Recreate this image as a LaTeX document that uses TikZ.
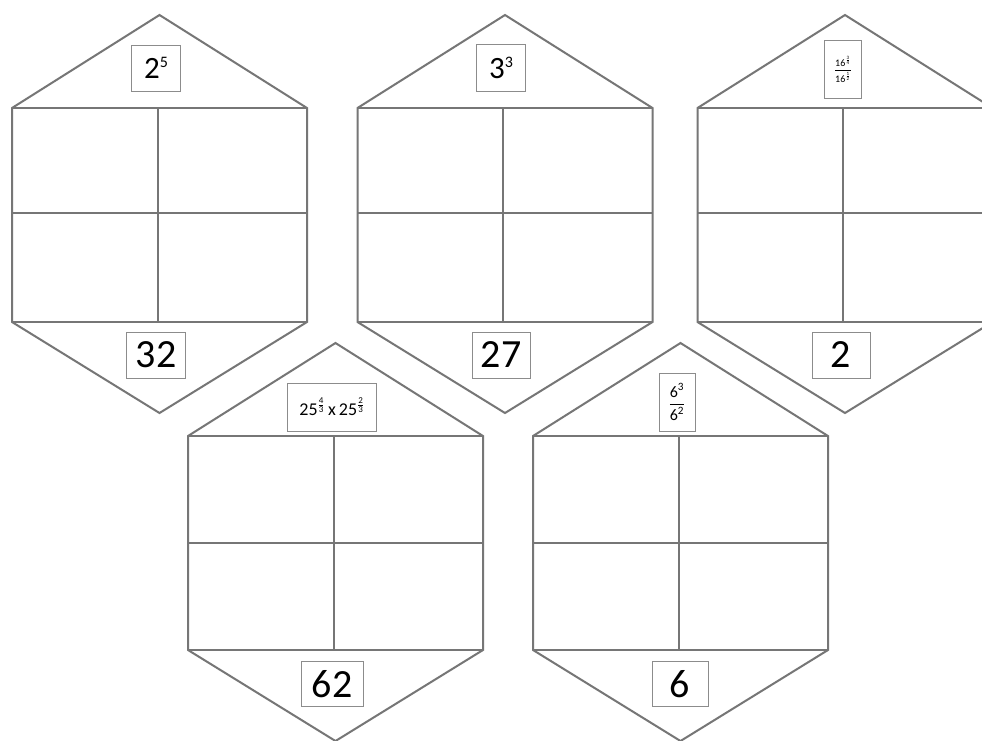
\documentclass[tikz,border=0pt]{standalone}
\usepackage{fontspec}
\setmainfont{Carlito}
\usepackage{amsmath}
\definecolor{linegray}{RGB}{118,118,118}
\definecolor{boxgray}{RGB}{140,140,140}
\newcommand{\hexcard}[4]{%
  % #1 centre x, #2 rectangle top y, #3 rectangle height, #4 middle line offset
  \draw[card] (#1,#2-93) -- (#1+147.5,#2) -- (#1+147.5,#2+#3) -- (#1,#2+#3+91)
     -- (#1-147.5,#2+#3) -- (#1-147.5,#2) -- cycle;
  \draw[card] (#1-147.5,#2) -- (#1+147.5,#2);
  \draw[card] (#1-147.5,#2+#3) -- (#1+147.5,#2+#3);
  \draw[card] (#1-2,#2) -- (#1-2,#2+#3);
  \draw[card] (#1-147.5,#2+#4) -- (#1+147.5,#2+#4);
}
\newcommand{\smallsup}[1]{\raisebox{0.34em}{\fontsize{16}{17}\selectfont #1}}
\begin{document}
\begin{tikzpicture}[x=1pt,y=-1pt,
  card/.style={draw=linegray,line width=2pt,line join=miter},
  lbl/.style={draw=boxgray,line width=0.9pt,inner sep=0pt,align=center,text=black},
  big/.style={lbl,font=\fontsize{40}{44}\selectfont},
  topbig/.style={lbl,font=\fontsize{31}{34}\selectfont}]
\useasboundingbox (0,0) rectangle (982,740);
\clip (0,0) rectangle (982,740);
\fill[white] (0,0) rectangle (982,740);

\hexcard{159.5}{108}{214}{105}
\hexcard{505}{108}{214}{105}
\hexcard{845}{108}{214}{105}
\hexcard{335.5}{436}{214}{107}
\hexcard{680.5}{436}{214}{107}

% labels, row 1
\node[topbig,minimum width=49pt,minimum height=46pt] (h1top) at (156,68) {2\smallsup{5}};
\node[big,minimum width=59pt,minimum height=46pt] (h1bot) at (156,355) {32};
\node[topbig,minimum width=49pt,minimum height=47pt] (h2top) at (501,68) {3\smallsup{3}};
\node[big,minimum width=58pt,minimum height=46pt] (h2bot) at (501,355) {27};
\node[lbl,minimum width=37pt,minimum height=58pt,font=\fontsize{10}{11}\selectfont] (h3top) at (843,69)
  {\(\dfrac{\text{16}^{\frac{\text{3}}{\text{4}}}}{\text{16}^{\frac{\text{1}}{\text{2}}}}\)};
\node[big,minimum width=58pt,minimum height=46pt] (h3bot) at (841,355) {2};

% labels, row 2
\node[lbl,minimum width=89pt,minimum height=48pt,font=\fontsize{18}{20}\selectfont] (h4top) at (332,407)
  {\(\text{25}^{\frac{\text{4}}{\text{3}}}\text{\,x\,}\text{25}^{\frac{\text{2}}{\text{3}}}\)};
\node[big,minimum width=62pt,minimum height=45pt] (h4bot) at (332,684) {62};
\node[lbl,minimum width=36pt,minimum height=58pt,font=\fontsize{16}{18}\selectfont] (h5top) at (677,402)
  {\(\dfrac{\text{6}^{\text{3}}}{\text{6}^{\text{2}}}\)};
\node[big,minimum width=56pt,minimum height=45pt] (h5bot) at (680,684) {6};
\end{tikzpicture}
\end{document}
